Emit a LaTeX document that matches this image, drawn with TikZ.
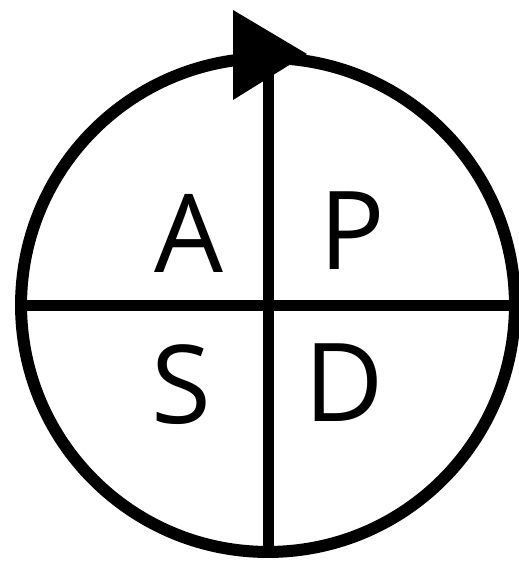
\documentclass[tikz,border=0pt]{standalone}
\usepackage{fontspec}
\setmainfont{Open Sans}
\usetikzlibrary{shapes,arrows}

\begin{document}
\begin{tikzpicture}[x=0.02cm, y=-0.02cm,
				ring/.style={draw, circle, line width=0.24cm, minimum size=9.88cm, inner sep=0pt},
				divider/.style={line width=0.22cm},
				letter/.style={font=\fontsize{62}{62}\selectfont, inner sep=0pt}]
				%Bildbereich
				\useasboundingbox (0,0) rectangle (518,561);
				% Kreis zeichnen
				\node[ring] (cycle) at (268,305) {};
				% Achsen zeichnen
				\draw[divider] (cycle.north) -- (cycle.south);
				\draw[divider] (cycle.west) -- (cycle.east);
				% Pfeilspitze
				\fill (233,10) -- (307,54) -- (233,100) -- cycle;
				% Quadranten beschriften
				\node[letter] (a) at (189,233) {A};
				\node[letter] (p) at (352,231) {P};
				\node[letter] (s) at (181,385) {S};
				\node[letter] (d) at (344,383) {D};
			\end{tikzpicture}
\end{document}
